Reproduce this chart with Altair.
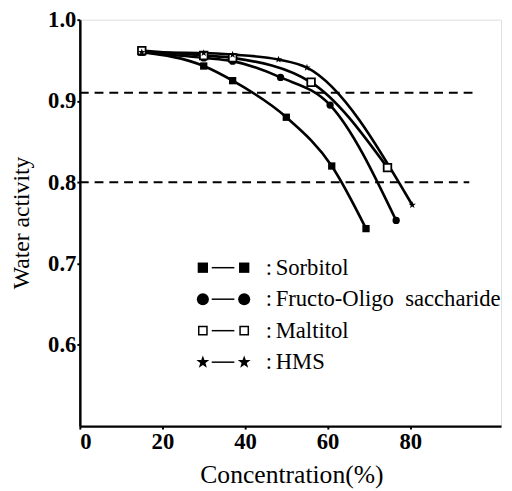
import altair as alt
import pandas as pd

# ---- data ----
series_names = ["Sorbitol", "Fructo-Oligo\u00a0 saccharide", "Maltitol", "HMS"]

sorbitol_x = [15, 30, 37, 50, 61, 69.3]
sorbitol_y = [0.960, 0.943, 0.925, 0.880, 0.820, 0.743]

fructo_x = [15, 30, 37, 48.6, 60.6, 76.6]
fructo_y = [0.960, 0.953, 0.949, 0.929, 0.895, 0.753]

maltitol_x = [15, 30, 37, 56, 74.5]
maltitol_y = [0.962, 0.956, 0.953, 0.923, 0.818]

hms_x = [15, 30, 37, 48.1, 55, 80.5]
hms_y = [0.960, 0.959, 0.957, 0.951, 0.941, 0.772]

ref_levels = [0.91, 0.80]
ref_ends = [96.2, 94.3]

x_ticks = [0, 20, 40, 60, 80]
y_ticks = [0.6, 0.7, 0.8, 0.9, 1.0]

FONT = "Times New Roman, Liberation Serif, DejaVu Serif, serif"
W, H = 428, 413

STAR = ("M0,-1L0.236,-0.325L0.951,-0.309L0.382,0.124L0.588,0.809L0,0.4"
        "L-0.588,0.809L-0.382,0.124L-0.951,-0.309L-0.236,-0.325Z")

xs = alt.Scale(domain=[0, 102], nice=False, zero=False)
ys = alt.Scale(domain=[0.5, 1.0], nice=False, zero=False)

def frame(xv, yv, name):
    return pd.DataFrame({"conc": xv, "aw": yv, "series": name})

frames = [
    frame(sorbitol_x, sorbitol_y, series_names[0]),
    frame(fructo_x, fructo_y, series_names[1]),
    frame(maltitol_x, maltitol_y, series_names[2]),
    frame(hms_x, hms_y, series_names[3]),
]
all_df = pd.concat(frames, ignore_index=True)

xaxis = alt.Axis(values=x_ticks, title="Concentration(%)", grid=False,
                 domainColor="black", domainWidth=2.5, tickColor="black",
                 tickSize=3, tickWidth=2, labelFont=FONT, labelFontSize=23,
                 labelFontWeight="bold", labelColor="black", labelPadding=2,
                 titleFont=FONT, titleFontSize=26, titleFontWeight="normal",
                 titleColor="black", titleX=215, titleY=49,
                 titleBaseline="middle", titleAlign="center")
yaxis = alt.Axis(values=y_ticks, format=".1f", title="Water activity", grid=False,
                 domainColor="black", domainWidth=2.5, tickColor="black",
                 tickSize=3, tickWidth=2, labelFont=FONT, labelFontSize=23,
                 labelFontWeight="bold", labelColor="black", labelPadding=1,
                 titleFont=FONT, titleFontSize=24, titleFontWeight="normal",
                 titleColor="black", titleX=-59, titleY=206,
                 titleBaseline="middle", titleAlign="center", titleAngle=-90)

base = alt.Chart(all_df)
lines = base.mark_line(color="black", strokeWidth=2.7, interpolate="monotone").encode(
    x=alt.X("conc:Q", scale=xs, axis=xaxis),
    y=alt.Y("aw:Q", scale=ys, axis=yaxis),
    detail="series:N",
)

marker_styles = [
    dict(shape="square", filled=True, size=55),
    dict(shape="circle", filled=True, size=55),
    dict(shape="square", filled=True, fill="white", stroke="black", strokeWidth=1.8, size=60),
    dict(shape=STAR, filled=True, size=60),
]

layers = [lines]
for f, st in zip(frames, marker_styles):
    st = dict(st)
    fill = st.pop("fill", "black")
    stroke = st.pop("stroke", "black")
    sw = st.pop("strokeWidth", 0)
    layers.append(
        alt.Chart(f).mark_point(color="black", fill=fill, stroke=stroke,
                                strokeWidth=sw, opacity=1, **st).encode(
            x=alt.X("conc:Q", scale=xs), y=alt.Y("aw:Q", scale=ys))
    )

ref_df = pd.DataFrame({"level": ref_levels, "end": ref_ends, "start": [0, 0]})
refs = alt.Chart(ref_df).mark_rule(color="black", strokeWidth=2,
                                   strokeDash=[9, 6]).encode(
    x=alt.X("start:Q", scale=xs), x2="end:Q", y=alt.Y("level:Q", scale=ys))
layers.append(refs)

# ---- hand-drawn style legend inside the plot ----
leg_rows_y = [252, 284, 316, 348]
leg_x_left, leg_x_right = 125, 167
leg_dash = (134, 157)
leg_colon_x, leg_text_x = 192, 199
leg_styles = [
    dict(shape="square", filled=True, size=110),
    dict(shape="circle", filled=True, size=150),
    dict(shape="square", filled=True, fill="white", stroke="black", strokeWidth=1.5, size=70),
    dict(shape=STAR, filled=True, size=190),
]
one = pd.DataFrame({"k": [0]})
for name, ry, st in zip(series_names, leg_rows_y, leg_styles):
    st = dict(st)
    fill = st.pop("fill", "black")
    stroke = st.pop("stroke", "black")
    sw = st.pop("strokeWidth", 0)
    for px in (leg_x_left, leg_x_right):
        layers.append(alt.Chart(one).mark_point(color="black", fill=fill, stroke=stroke,
                                                strokeWidth=sw, opacity=1, **st).encode(
            x=alt.value(px), y=alt.value(ry)))
    layers.append(alt.Chart(one).mark_rule(color="black", strokeWidth=1.5).encode(
        x=alt.value(leg_dash[0]), x2=alt.value(leg_dash[1]), y=alt.value(ry)))
    layers.append(alt.Chart(one).mark_text(text=":", font=FONT, fontSize=23,
                                           color="black", align="center",
                                           baseline="middle").encode(
        x=alt.value(leg_colon_x), y=alt.value(ry)))
    layers.append(alt.Chart(one).mark_text(text=name, font=FONT, fontSize=23,
                                           color="black", align="left",
                                           baseline="middle").encode(
        x=alt.value(leg_text_x), y=alt.value(ry)))

chart = alt.layer(*layers).properties(
    width=W, height=H,
    autosize=alt.AutoSizeParams(type="none"),
    padding={"left": 73, "top": 8, "right": 3, "bottom": 60},
).configure_view(stroke=None).configure(background="white")

chart.save("out.html", embed_options={"renderer": "svg", "actions": False})
